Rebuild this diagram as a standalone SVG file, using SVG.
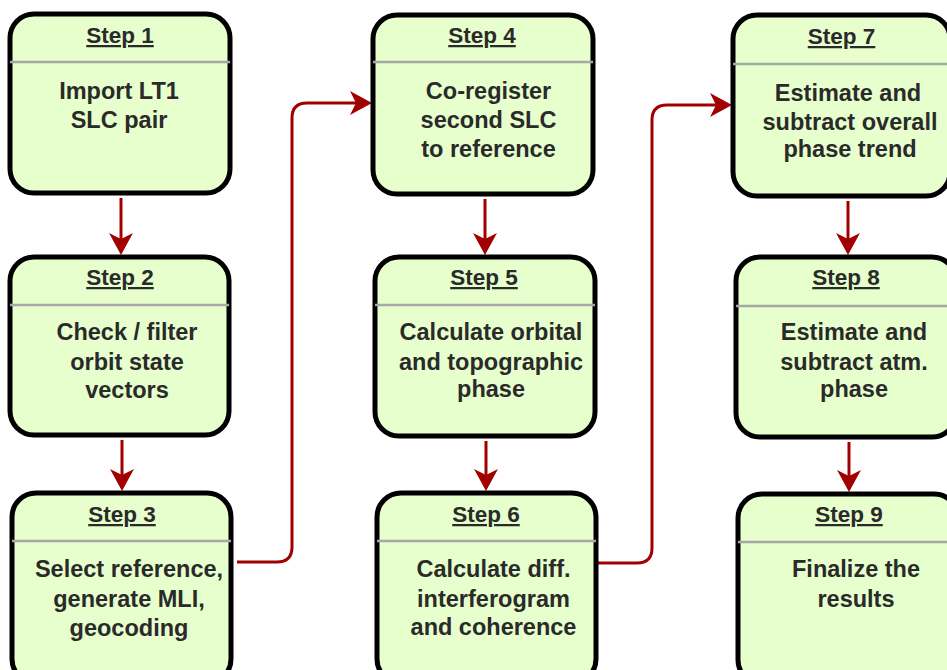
<svg xmlns="http://www.w3.org/2000/svg" width="947" height="670" viewBox="0 0 947 670">
<style>
.box{fill:#E6FFCC;stroke:#000;stroke-width:5}
.sep{stroke:#A8A8A8;stroke-width:2.5}
.hd{font-family:"Liberation Sans",Arial,sans-serif;font-weight:bold;font-size:22.5px;fill:#2a2a2a;text-anchor:middle;text-decoration:underline}
.bd{font-family:"Liberation Sans",Arial,sans-serif;font-weight:bold;font-size:23.5px;fill:#2a2a2a;text-anchor:middle}
.cn{fill:none;stroke:#A20000;stroke-width:3;marker-end:url(#ah)}
</style>
<defs>
<marker id="ah" markerUnits="userSpaceOnUse" viewBox="0 0 22 24" refX="6" refY="12" markerWidth="22" markerHeight="24" orient="auto">
<path d="M0,0 L22,12 L0,24 L6,12 Z" fill="#A20000"/>
</marker>
</defs>
<rect width="947" height="670" fill="#fff"/>
<g id="connectors">
<path class="cn" d="M121,198 V239"/>
<path class="cn" d="M122,440 V475"/>
<path class="cn" d="M485,199 V239"/>
<path class="cn" d="M486,441 V475"/>
<path class="cn" d="M848,201 V239"/>
<path class="cn" d="M849,442 V476"/>
<path class="cn" d="M237,562 H277 Q292,562 292,547 V118 Q292,103 307,103 H356"/>
<path class="cn" d="M598,563 H637 Q652,563 652,548 V120 Q652,105 667,105 H716"/>
</g>
<g id="step1">
<rect class="box" x="10" y="14" width="220" height="179" rx="24"/>
<line class="sep" x1="10" y1="62" x2="230" y2="62"/>
<text class="hd" x="120" y="43">Step 1</text>
<text class="bd" x="119" y="99">Import LT1</text>
<text class="bd" x="119" y="128">SLC pair</text>
</g>
<g id="step2">
<rect class="box" x="10" y="257" width="219" height="178" rx="24"/>
<line class="sep" x1="10" y1="305" x2="229" y2="305"/>
<text class="hd" x="120" y="285">Step 2</text>
<text class="bd" x="127" y="340">Check / filter</text>
<text class="bd" x="127" y="370">orbit state</text>
<text class="bd" x="127" y="398">vectors</text>
</g>
<g id="step3">
<rect class="box" x="12" y="493" width="219" height="190" rx="24"/>
<line class="sep" x1="12" y1="541" x2="231" y2="541"/>
<text class="hd" x="122" y="522">Step 3</text>
<text class="bd" x="129" y="577">Select reference,</text>
<text class="bd" x="129" y="607">generate MLI,</text>
<text class="bd" x="129" y="636">geocoding</text>
</g>
<g id="step4">
<rect class="box" x="373" y="15" width="220" height="179" rx="24"/>
<line class="sep" x1="373" y1="62" x2="593" y2="62"/>
<text class="hd" x="482" y="43">Step 4</text>
<text class="bd" x="488.5" y="99">Co-register</text>
<text class="bd" x="488.5" y="128">second SLC</text>
<text class="bd" x="488.5" y="157">to reference</text>
</g>
<g id="step5">
<rect class="box" x="375" y="257" width="220" height="179" rx="24"/>
<line class="sep" x1="375" y1="305" x2="595" y2="305"/>
<text class="hd" x="484" y="285">Step 5</text>
<text class="bd" x="491" y="340">Calculate orbital</text>
<text class="bd" x="491" y="370">and topographic</text>
<text class="bd" x="491" y="397">phase</text>
</g>
<g id="step6">
<rect class="box" x="377" y="493" width="219" height="190" rx="24"/>
<line class="sep" x1="377" y1="541" x2="596" y2="541"/>
<text class="hd" x="486" y="522">Step 6</text>
<text class="bd" x="493.5" y="577">Calculate diff.</text>
<text class="bd" x="493.5" y="607">interferogram</text>
<text class="bd" x="493.5" y="635">and coherence</text>
</g>
<g id="step7">
<rect class="box" x="733" y="15" width="217" height="181" rx="24"/>
<line class="sep" x1="733" y1="64" x2="950" y2="64"/>
<text class="hd" x="841.5" y="44">Step 7</text>
<text class="bd" x="848" y="101">Estimate and</text>
<text class="bd" x="850" y="130">subtract overall</text>
<text class="bd" x="850" y="157">phase trend</text>
</g>
<g id="step8">
<rect class="box" x="736" y="257" width="220" height="180" rx="24"/>
<line class="sep" x1="736" y1="306" x2="956" y2="306"/>
<text class="hd" x="846" y="285">Step 8</text>
<text class="bd" x="854" y="340">Estimate and</text>
<text class="bd" x="854" y="370">subtract atm.</text>
<text class="bd" x="854" y="397">phase</text>
</g>
<g id="step9">
<rect class="box" x="738" y="494" width="220" height="190" rx="24"/>
<line class="sep" x1="738" y1="542" x2="958" y2="542"/>
<text class="hd" x="849" y="522">Step 9</text>
<text class="bd" x="856" y="577">Finalize the</text>
<text class="bd" x="856" y="607">results</text>
</g>
</svg>
